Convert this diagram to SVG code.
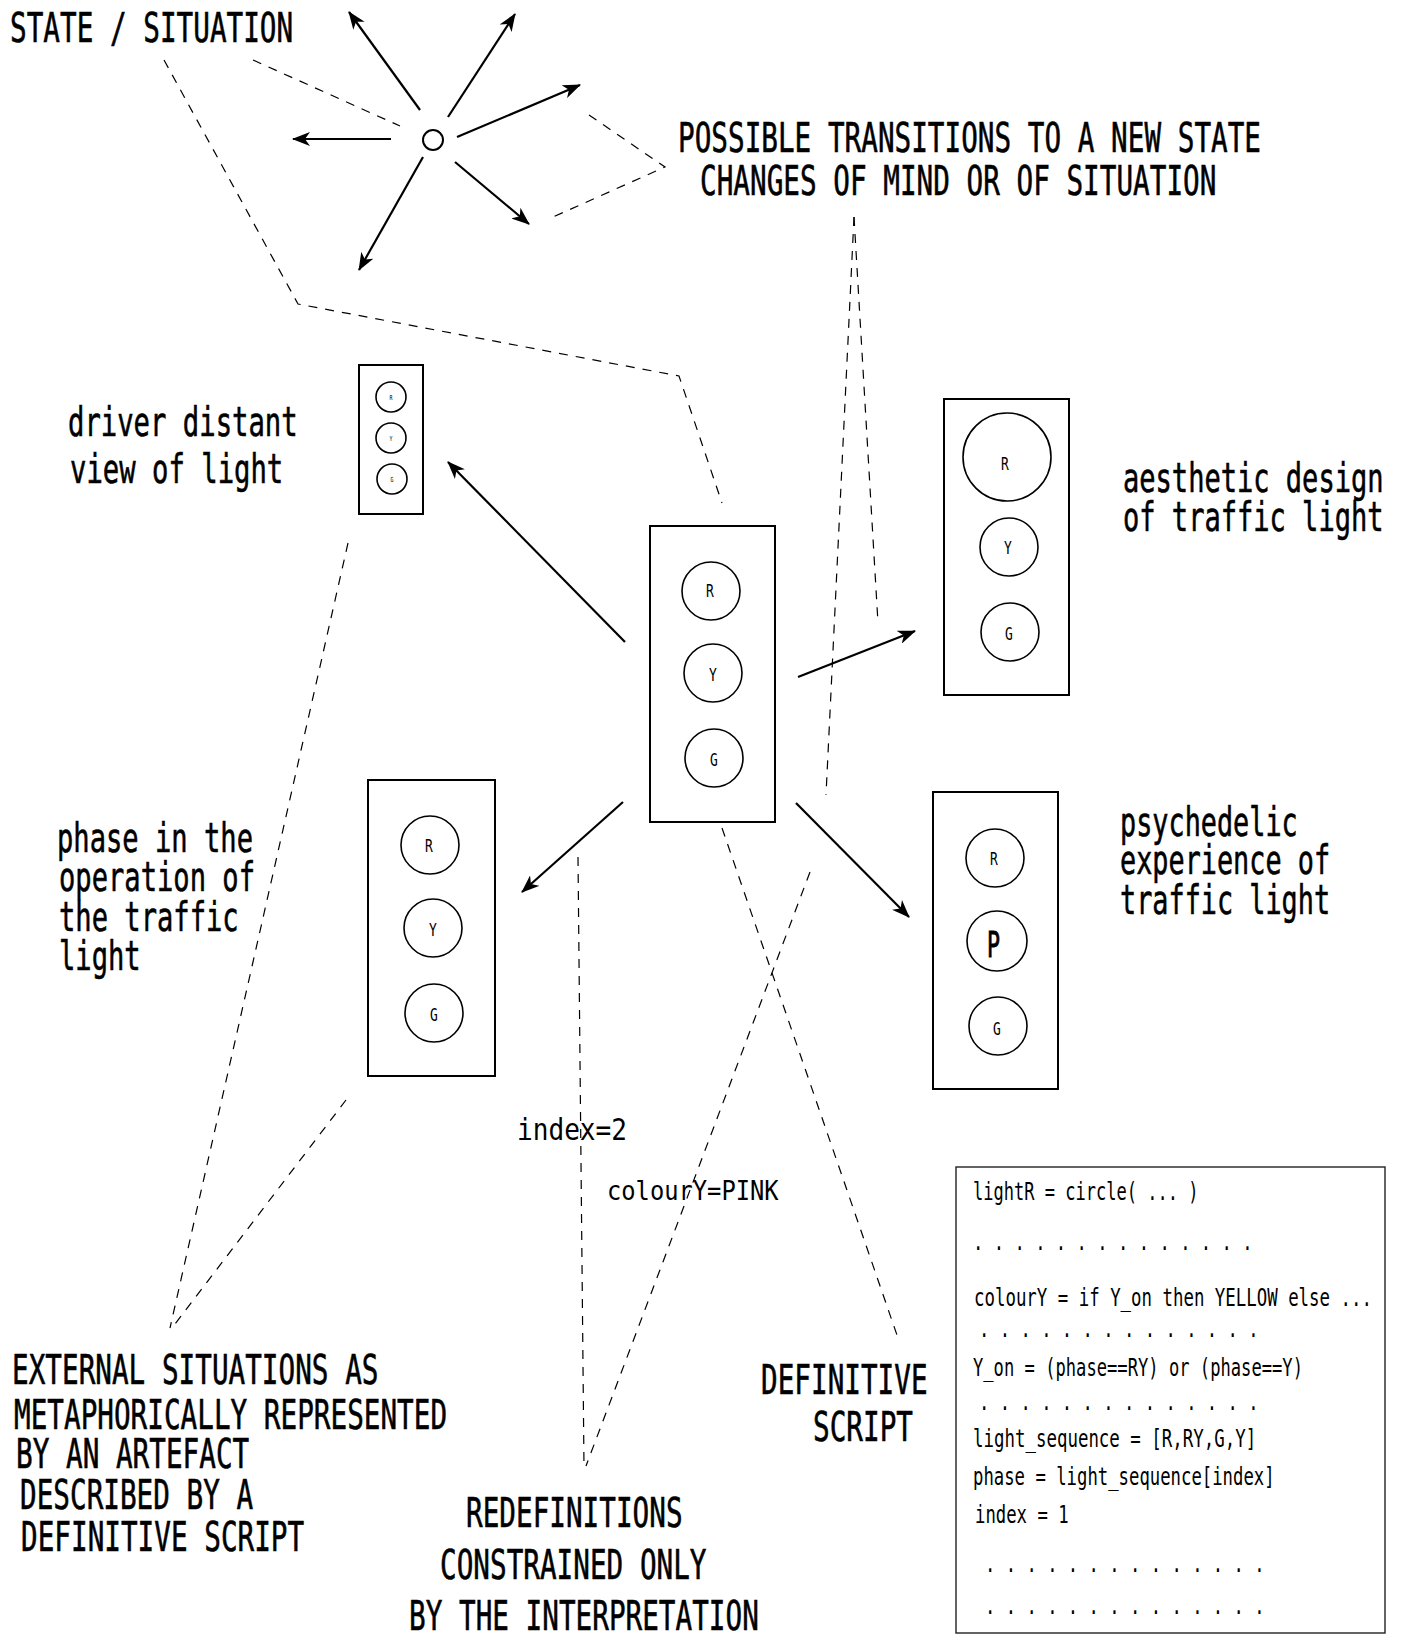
<svg xmlns="http://www.w3.org/2000/svg" width="1406" height="1635" viewBox="0 0 1406 1635">
<style>
text{font-family:"DejaVu Sans Mono","Liberation Mono",monospace;fill:#000}
.big{font-size:41px;stroke:#000;stroke-width:0.6}
.code{font-size:24px}
.lt{font-size:18px}
.tiny{font-size:7px}
.box{fill:#fff;stroke:#000;stroke-width:2}
.lamp{fill:none;stroke:#000;stroke-width:1.6}
.arrow{fill:none;stroke:#000;stroke-width:2.2;marker-end:url(#ah)}
.dash{fill:none;stroke:#000;stroke-width:1.2;stroke-dasharray:9 8}
</style>
<defs>
<marker id="ah" viewBox="0 0 18 14" refX="17" refY="7" markerWidth="18" markerHeight="14" markerUnits="userSpaceOnUse" orient="auto">
<path d="M0,0 L18,7 L0,14 L5,7 z" fill="#000"/>
</marker>
</defs>
<rect width="1406" height="1635" fill="#fff"/>

<g id="connectors">
<path class="arrow" d="M420,110 L349,12"/>
<path class="arrow" d="M448,117 L515,14"/>
<path class="arrow" d="M457,137 L580,85"/>
<path class="arrow" d="M391,139 L293,139"/>
<path class="arrow" d="M455,162 L529,224"/>
<path class="arrow" d="M423,157 L359,270"/>
<path class="arrow" d="M625,642 L448,462"/>
<path class="arrow" d="M798,677 L915,631"/>
<path class="arrow" d="M623,802 L522,892"/>
<path class="arrow" d="M796,803 L909,917"/>
<path class="dash" d="M253,60 L400,126"/>
<path class="dash" d="M164,60 L298,304 L679,376 L722,503"/>
<path class="dash" d="M589,115 L665,167 L553,217"/>
<path class="dash" d="M854,217 L826,795"/>
<path class="dash" d="M854,217 L878,623"/>
<path class="dash" d="M348,543 L170,1328"/>
<path class="dash" d="M346,1100 L172,1328"/>
<path class="dash" d="M578,857 L584,1467"/>
<path class="dash" d="M810,872 L586,1466"/>
<path class="dash" d="M722,828 L898,1338"/>
</g>

<g id="state-label">
<text class="big" transform="translate(10,42) scale(0.675,1)">STATE / SITUATION</text>
</g>
<g id="state-node">
<circle cx="433" cy="140" r="10" fill="none" stroke="#000" stroke-width="2"/>
</g>
<g id="transitions-label">
<text class="big" transform="translate(678,152) scale(0.675,1)">POSSIBLE TRANSITIONS TO A NEW STATE</text>
<text class="big" transform="translate(700,195) scale(0.675,1)">CHANGES OF MIND OR OF SITUATION</text>
</g>

<g id="driver-label">
<text class="big" transform="translate(68,436) scale(0.665,1)">driver distant</text>
<text class="big" transform="translate(70,483) scale(0.665,1)">view of light</text>
</g>
<g id="driver-light">
<rect class="box" x="359" y="365" width="64" height="149"/>
<circle class="lamp" cx="391" cy="397" r="15"/>
<circle class="lamp" cx="391" cy="438" r="15"/>
<circle class="lamp" cx="392" cy="479" r="15"/>
<text class="tiny" transform="translate(389.5,400) scale(0.7,1)">R</text>
<text class="tiny" transform="translate(389.5,441) scale(0.7,1)">Y</text>
<text class="tiny" transform="translate(390.5,482) scale(0.7,1)">G</text>
</g>

<g id="central-light">
<rect class="box" x="650" y="526" width="125" height="296"/>
<circle class="lamp" cx="711" cy="591" r="29"/>
<circle class="lamp" cx="713" cy="673" r="29"/>
<circle class="lamp" cx="714" cy="758" r="29"/>
<text class="lt" transform="translate(706,597) scale(0.72,1)">R</text>
<text class="lt" transform="translate(709,681) scale(0.72,1)">Y</text>
<text class="lt" transform="translate(710,766) scale(0.72,1)">G</text>
</g>

<g id="aesthetic-light">
<rect class="box" x="944" y="399" width="125" height="296"/>
<circle class="lamp" cx="1007" cy="457" r="44"/>
<circle class="lamp" cx="1009" cy="547" r="29"/>
<circle class="lamp" cx="1010" cy="632" r="29"/>
<text class="lt" transform="translate(1001,470) scale(0.72,1)">R</text>
<text class="lt" transform="translate(1004,554) scale(0.72,1)">Y</text>
<text class="lt" transform="translate(1005,640) scale(0.72,1)">G</text>
</g>
<g id="aesthetic-label">
<text class="big" transform="translate(1123,492) scale(0.66,1)">aesthetic design</text>
<text class="big" transform="translate(1123,531) scale(0.66,1)">of traffic light</text>
</g>

<g id="phase-label">
<text class="big" transform="translate(57,852) scale(0.662,1)">phase in the</text>
<text class="big" transform="translate(59,891) scale(0.662,1)">operation of</text>
<text class="big" transform="translate(59,931) scale(0.662,1)">the traffic</text>
<text class="big" transform="translate(59,970) scale(0.662,1)">light</text>
</g>
<g id="phase-light">
<rect class="box" x="368" y="780" width="127" height="296"/>
<circle class="lamp" cx="430" cy="845" r="29"/>
<circle class="lamp" cx="433" cy="928" r="29"/>
<circle class="lamp" cx="434" cy="1013" r="29"/>
<text class="lt" transform="translate(425,852) scale(0.72,1)">R</text>
<text class="lt" transform="translate(429,936) scale(0.72,1)">Y</text>
<text class="lt" transform="translate(430,1021) scale(0.72,1)">G</text>
</g>

<g id="psychedelic-light">
<rect class="box" x="933" y="792" width="125" height="297"/>
<circle class="lamp" cx="995" cy="858" r="29"/>
<circle class="lamp" cx="997" cy="941" r="30"/>
<circle class="lamp" cx="998" cy="1026" r="29"/>
<text class="lt" transform="translate(990,865) scale(0.72,1)">R</text>
<text font-size="36" transform="translate(987,957) scale(0.6,1)" stroke="#000" stroke-width="1">P</text>
<text class="lt" transform="translate(993,1035) scale(0.72,1)">G</text>
</g>
<g id="psychedelic-label">
<text class="big" transform="translate(1120,836) scale(0.655,1)">psychedelic</text>
<text class="big" transform="translate(1120,874) scale(0.655,1)">experience of</text>
<text class="big" transform="translate(1120,914) scale(0.655,1)">traffic light</text>
</g>

<g id="redefinition-labels">
<text font-size="30" transform="translate(517,1140) scale(0.87,1)">index=2</text>
<text font-size="27" transform="translate(607,1200) scale(0.88,1)">colourY=PINK</text>
</g>

<g id="external-label">
<text class="big" transform="translate(12,1384) scale(0.675,1)">EXTERNAL SITUATIONS AS</text>
<text class="big" transform="translate(14,1429) scale(0.675,1)">METAPHORICALLY REPRESENTED</text>
<text class="big" transform="translate(16,1468) scale(0.675,1)">BY AN ARTEFACT</text>
<text class="big" transform="translate(20,1509) scale(0.675,1)">DESCRIBED BY A</text>
<text class="big" transform="translate(21,1551) scale(0.675,1)">DEFINITIVE SCRIPT</text>
</g>

<g id="redefinitions-label">
<text class="big" transform="translate(466,1527) scale(0.675,1)">REDEFINITIONS</text>
<text class="big" transform="translate(440,1579) scale(0.675,1)">CONSTRAINED ONLY</text>
<text class="big" transform="translate(409,1630) scale(0.675,1)">BY THE INTERPRETATION</text>
</g>

<g id="definitive-script-label">
<text class="big" transform="translate(761,1394) scale(0.675,1)">DEFINITIVE</text>
<text class="big" transform="translate(813,1441) scale(0.675,1)">SCRIPT</text>
</g>

<g id="script-box">
<rect x="956" y="1167" width="429" height="466" fill="#fff" stroke="#222" stroke-width="1.4"/>
<text class="code" transform="translate(973,1200) scale(0.71,1)">lightR = circle( ... )</text>
<text class="code" transform="translate(973,1250) scale(0.717,1)">. . . . . . . . . . . . . .</text>
<text class="code" transform="translate(974,1306) scale(0.725,1)">colourY = if Y_on then YELLOW else ...</text>
<text class="code" transform="translate(979,1337) scale(0.717,1)">. . . . . . . . . . . . . .</text>
<text class="code" transform="translate(973,1376) scale(0.714,1)">Y_on = (phase==RY) or (phase==Y)</text>
<text class="code" transform="translate(979,1410) scale(0.717,1)">. . . . . . . . . . . . . .</text>
<text class="code" transform="translate(973,1447) scale(0.726,1)">light_sequence = [R,RY,G,Y]</text>
<text class="code" transform="translate(973,1485) scale(0.72,1)">phase = light_sequence[index]</text>
<text class="code" transform="translate(975,1523) scale(0.72,1)">index = 1</text>
<text class="code" transform="translate(985,1572) scale(0.717,1)">. . . . . . . . . . . . . .</text>
<text class="code" transform="translate(985,1614) scale(0.717,1)">. . . . . . . . . . . . . .</text>
</g>
</svg>
